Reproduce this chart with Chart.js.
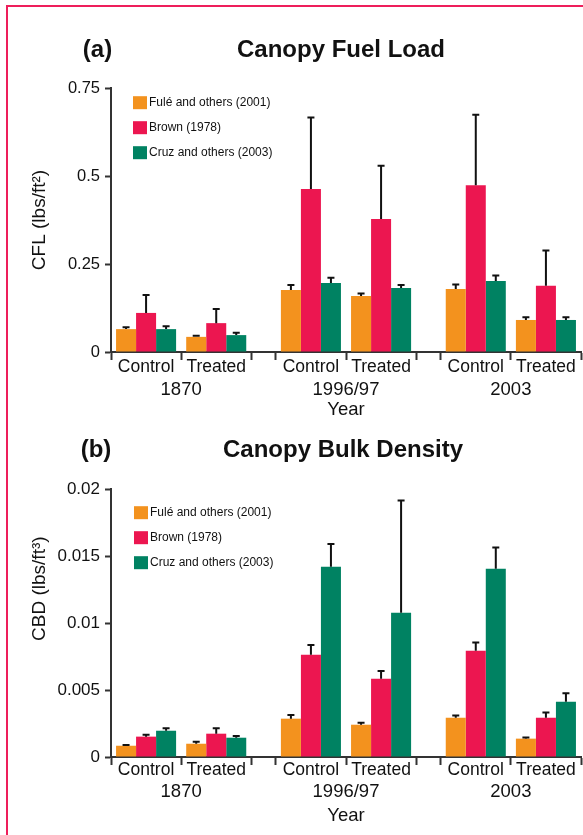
<!DOCTYPE html>
<html>
<head>
<meta charset="utf-8">
<script src="https://cdn.jsdelivr.net/npm/chart.js@4.4.1/dist/chart.umd.min.js"></script>
<style>
  html, body { margin: 0; padding: 0; background: #fff; overflow: hidden; }
  #frame { position: absolute; left: 6px; top: 5px; width: 580px; height: 835px;
           border-left: 2px solid #ee1e5b; border-top: 2px solid #ee1e5b; }
  .panel { position: absolute; left: 0; width: 583px; }
  #boxA { top: 0; height: 425px; }
  #boxB { top: 400px; height: 435px; }
</style>
</head>
<body>
<div id="frame"></div>
<div class="panel" id="boxA"><canvas id="cfl"></canvas></div>
<div class="panel" id="boxB"><canvas id="cbd"></canvas></div>
<script>
const years = ['1870', '1996/97', '2003'];
const treatments = ['Control', 'Treated'];
const sources = ['Fulé and others (2001)', 'Brown (1978)', 'Cruz and others (2003)'];
const sourceColors = ['#F3921E', '#EC1650', '#008262'];

// one value per slot: 1870 C, 1870 T, 1996/97 C, 1996/97 T, 2003 C, 2003 T
const cflFule  = [0.065, 0.043, 0.176, 0.159, 0.179, 0.091];
const cflBrown = [0.111, 0.082, 0.463, 0.378, 0.474, 0.188];
const cflCruz  = [0.065, 0.048, 0.196, 0.182, 0.202, 0.091];
const cflFuleErr  = [0.005, 0.003, 0.014, 0.007, 0.013, 0.008];
const cflBrownErr = [0.051, 0.040, 0.203, 0.151, 0.200, 0.100];
const cflCruzErr  = [0.008, 0.007, 0.015, 0.008, 0.015, 0.008];

const cbdFule  = [0.00084, 0.00099, 0.00286, 0.00241, 0.00293, 0.00137];
const cbdBrown = [0.00152, 0.00174, 0.00763, 0.00584, 0.00793, 0.00293];
const cbdCruz  = [0.00196, 0.00144, 0.01420, 0.01077, 0.01405, 0.00413];
const cbdFuleErr  = [0.00006, 0.00015, 0.00027, 0.00015, 0.00017, 0.00009];
const cbdBrownErr = [0.00014, 0.00040, 0.00073, 0.00058, 0.00062, 0.00040];
const cbdCruzErr  = [0.00018, 0.00013, 0.00170, 0.00838, 0.00159, 0.00062];

const cflTicks = [0, 0.25, 0.5, 0.75];
const cflTickLabels = ['0', '0.25', '0.5', '0.75'];
const cbdTicks = [0, 0.005, 0.01, 0.015, 0.02];
const cbdTickLabels = ['0', '0.005', '0.01', '0.015', '0.02'];

Chart.defaults.font.family = "'Liberation Sans', Arial, sans-serif";
Chart.defaults.color = '#111';

// slot layout on a linear x axis (1 unit = one treatment slot)
const GAP = 0.35;
const slotX = [], edgeX = [], yearX = [];
years.forEach((yr, g) => {
  const start = g * (treatments.length + GAP);
  treatments.forEach((t, k) => slotX.push(start + k + 0.5));
  for (let k = 0; k <= treatments.length; k++) edgeX.push(start + k);
  yearX.push(start + treatments.length / 2);
});
const xMax = edgeX[edgeX.length - 1];
const slotLabels = years.flatMap(() => treatments);

const ticksAt = vals => scale => { scale.ticks = vals.map(v => ({ value: v })); };

const errorBars = {
  id: 'errorBars',
  afterDatasetsDraw(chart) {
    const { ctx } = chart;
    const y = chart.scales.y;
    ctx.save();
    ctx.strokeStyle = '#111';
    ctx.lineWidth = 2;
    chart.data.datasets.forEach((ds, i) => {
      chart.getDatasetMeta(i).data.forEach((bar, j) => {
        const top = y.getPixelForValue(ds.data[j].y + ds.errors[j]);
        ctx.beginPath();
        ctx.moveTo(bar.x, bar.y);
        ctx.lineTo(bar.x, top);
        ctx.moveTo(bar.x - 3.5, top);
        ctx.lineTo(bar.x + 3.5, top);
        ctx.stroke();
      });
    });
    ctx.restore();
  }
};

const panelText = {
  id: 'panelText',
  afterDraw(chart, args, o) {
    const { ctx } = chart;
    ctx.save();
    ctx.fillStyle = '#111';
    ctx.font = "bold 24px 'Liberation Sans', Arial, sans-serif";
    ctx.textAlign = 'center';
    ctx.textBaseline = 'alphabetic';
    ctx.fillText(o.letter, o.letterX, o.titleY);
    ctx.fillText(o.title, o.titleX, o.titleY);
    ctx.font = "12px 'Liberation Sans', Arial, sans-serif";
    ctx.textAlign = 'left';
    ctx.textBaseline = 'middle';
    chart.data.datasets.forEach((ds, i) => {
      const cy = o.legendY + i * o.legendStep;
      ctx.fillStyle = ds.backgroundColor;
      ctx.fillRect(o.legendX, cy - 6.5, 14, 13);
      ctx.fillStyle = '#111';
      ctx.fillText(ds.label, o.legendX + 16, cy);
    });
    ctx.restore();
  }
};

function makeChart(id, p) {
  const datasets = p.series.map((vals, i) => ({
    label: sources[i],
    data: vals.map((v, j) => ({ x: slotX[j], y: v })),
    errors: p.errors[i],
    backgroundColor: sourceColors[i],
    borderWidth: 0,
    xAxisID: 'x',
    yAxisID: 'y',
    categoryPercentage: 0.856,
    barPercentage: 1
  }));
  const hidden = { display: false, drawTicks: false, offset: false };
  return new Chart(document.getElementById(id), {
    type: 'bar',
    data: { datasets },
    plugins: [errorBars, panelText],
    options: {
      responsive: true,
      maintainAspectRatio: false,
      animation: false,
      events: [],
      layout: { padding: { top: p.top, bottom: p.bottom, left: 0, right: 2 } },
      plugins: {
        legend: { display: false },
        tooltip: { enabled: false },
        panelText: p.text
      },
      scales: {
        x: {
          type: 'linear', position: 'bottom', weight: 1, min: 0, max: xMax, offset: false,
          afterBuildTicks: ticksAt(slotX),
          afterFit: s => { s.height = 20; },
          grid: hidden, border: { display: false },
          ticks: { autoSkip: false, maxRotation: 0, padding: 0, color: '#111',
                   font: { size: 17.5 }, callback: (v, i) => slotLabels[i] }
        },
        xb: {
          type: 'linear', position: 'bottom', weight: 0, min: 0, max: xMax, offset: false,
          afterBuildTicks: ticksAt(edgeX),
          afterFit: s => { s.height = p.tickGap; },
          grid: { drawOnChartArea: false, offset: false, tickLength: 8, tickWidth: 2, tickColor: '#333' },
          border: { color: '#333', width: 2 },
          ticks: { display: false }
        },
        xy: {
          type: 'linear', position: 'bottom', weight: 2, min: 0, max: xMax, offset: false,
          afterBuildTicks: ticksAt(yearX),
          afterFit: s => { s.height = p.yearH; },
          grid: hidden, border: { display: false },
          ticks: { autoSkip: false, maxRotation: 0, padding: p.yearPad, color: '#111',
                   font: { size: 18.5 }, callback: (v, i) => years[i] },
          title: { display: true, text: 'Year', color: '#111', font: { size: 18.5 }, padding: 0 }
        },
        y: {
          min: 0, max: p.yTicks[p.yTicks.length - 1],
          afterBuildTicks: ticksAt(p.yTicks),
          afterFit: s => { s.width = 111; },
          border: { color: '#333', width: 2 },
          grid: { drawOnChartArea: false, tickLength: 6, tickWidth: 2, tickColor: '#333' },
          ticks: { padding: 5, color: '#111', font: { size: p.yFont },
                   callback: (v, i) => p.yLabels[i] },
          title: { display: true, text: p.yTitle, color: '#111', font: { size: 19 },
                   padding: { top: 28, bottom: 0 } }
        }
      }
    }
  });
}

makeChart('cfl', {
  series: [cflFule, cflBrown, cflCruz],
  errors: [cflFuleErr, cflBrownErr, cflCruzErr],
  yTicks: cflTicks, yLabels: cflTickLabels, yFont: 16.5,
  yTitle: 'CFL (lbs/ft²)',
  top: 88, bottom: 4, tickGap: 5, yearPad: 2, yearH: 44,
  text: { letter: '(a)', title: 'Canopy Fuel Load', letterX: 97.5, titleX: 341, titleY: 57,
          legendX: 133, legendY: 102.7, legendStep: 25 }
});

makeChart('cbd', {
  series: [cbdFule, cbdBrown, cbdCruz],
  errors: [cbdFuleErr, cbdBrownErr, cbdCruzErr],
  yTicks: cbdTicks, yLabels: cbdTickLabels, yFont: 17,
  yTitle: ' '.repeat(13) + 'CBD (lbs/ft³)',
  top: 89, bottom: 8, tickGap: 3, yearPad: 1, yearH: 47,
  text: { letter: '(b)', title: 'Canopy Bulk Density', letterX: 96, titleX: 343, titleY: 57,
          legendX: 134, legendY: 112.7, legendStep: 25 }
});
</script>
</body>
</html>
